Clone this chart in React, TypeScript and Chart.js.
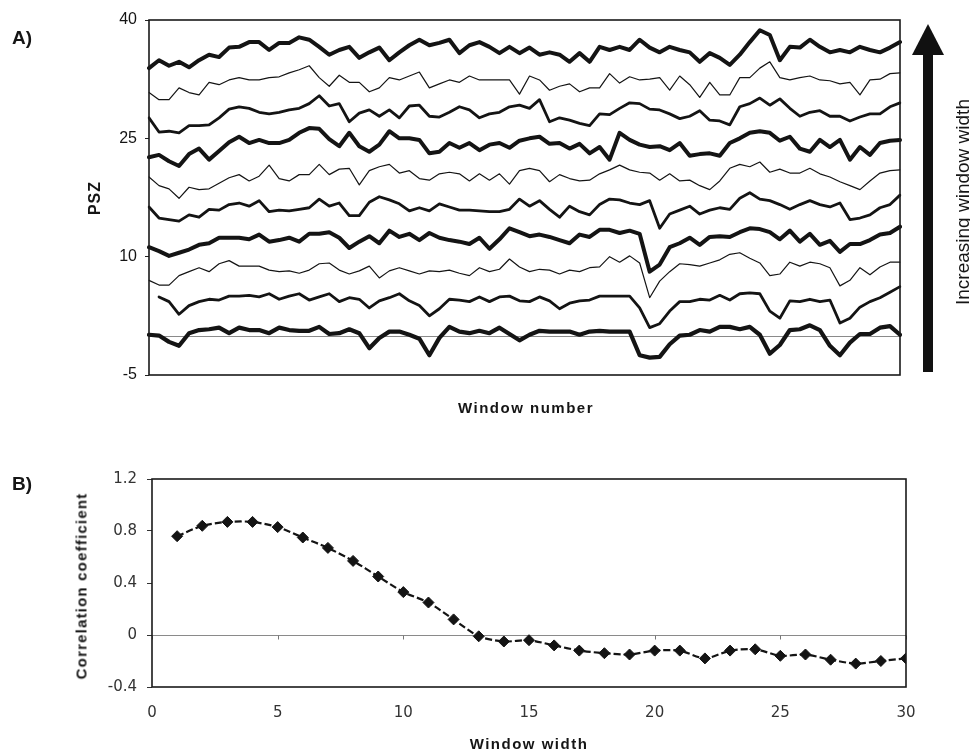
import React, { useEffect, useRef } from "react";
import { Chart, registerables } from "chart.js";

Chart.register(...registerables);

// ---------- Panel A data (PSZ per window, one series per window width, narrowest at bottom) ----------
const WINDOW_NUMBERS: string[] = Array.from({ length: 76 }, (_, i) => String(i + 1));

const pszWidth1 = [0.1, 0.0, -0.8, -1.3, 0.3, 0.7, 0.8, 1.0, 0.3, 1.0,
  0.7, 0.7, 0.3, 1.0, 0.7, 0.6, 0.6, 1.1, 0.2, 0.3,
  0.8, 0.3, -1.6, -0.3, 0.5, 0.5, 0.1, -0.4, -2.5, -0.3,
  1.1, 0.5, 0.3, 0.6, 0.3, 1.0, 0.2, -0.6, 0.1, 0.6,
  0.5, 0.5, 0.5, 0.1, 0.5, 0.6, 0.5, 0.5, 0.5, -2.5,
  -2.8, -2.7, -1.1, 0.0, 0.1, 0.7, 0.5, 1.1, 1.1, 0.8,
  1.1, 0.1, -2.3, -1.2, 0.7, 0.8, 1.3, 0.7, -1.3, -2.5,
  -0.9, 0.2, 0.2, 1.0, 1.2, 0.1];

const pszWidth2 = [null, 4.9, 4.3, 2.7, 3.8, 4.3, 4.6, 4.5, 5.0, 5.0,
  5.1, 4.9, 5.3, 4.6, 5.0, 5.3, 4.5, 4.9, 5.3, 4.3,
  4.8, 4.6, 3.5, 4.4, 4.8, 5.3, 4.4, 3.8, 2.5, 3.4,
  4.6, 4.5, 4.3, 4.9, 4.3, 4.9, 5.0, 4.4, 4.3, 4.9,
  4.4, 3.4, 4.1, 4.4, 4.5, 5.0, 5.0, 5.0, 5.0, 3.5,
  1.0, 1.5, 3.1, 4.3, 4.3, 4.6, 4.5, 5.1, 4.5, 5.3,
  5.4, 5.3, 3.1, 2.2, 4.4, 4.3, 4.6, 4.3, 4.5, 1.6,
  2.2, 3.6, 4.3, 4.8, 5.5, 6.2];

const pszWidth3 = [7.0, 6.4, 6.4, 7.6, 8.1, 8.6, 8.1, 9.1, 9.5, 8.8,
  8.8, 8.8, 8.3, 8.1, 8.2, 7.9, 8.3, 9.1, 9.2, 8.3,
  7.8, 8.2, 8.8, 7.3, 8.2, 8.6, 8.2, 7.8, 8.2, 8.1,
  8.3, 7.9, 7.6, 8.6, 8.1, 8.4, 9.7, 8.7, 8.1, 8.4,
  8.3, 7.8, 8.3, 8.1, 8.6, 8.7, 10.0, 9.3, 10.1, 9.2,
  4.8, 6.9, 8.1, 9.1, 9.0, 8.8, 9.2, 9.6, 10.3, 10.5,
  9.8, 9.2, 7.6, 7.8, 9.3, 8.8, 9.3, 9.1, 8.6, 6.3,
  7.0, 8.6, 7.7, 8.7, 9.3, 9.3];

const pszWidth4 = [11.2, 10.7, 10.1, 10.5, 10.9, 11.5, 11.7, 12.4, 12.4, 12.4,
  12.2, 12.8, 11.9, 12.1, 12.4, 11.9, 12.9, 12.9, 13.1, 12.4,
  11.1, 11.9, 12.6, 11.7, 13.3, 12.5, 12.9, 12.1, 13.0, 12.4,
  12.1, 11.9, 11.6, 12.4, 11.0, 12.2, 13.6, 13.1, 12.6, 12.8,
  12.5, 12.1, 11.7, 12.8, 12.5, 13.4, 13.4, 13.0, 13.3, 12.9,
  8.1, 9.0, 11.2, 11.7, 12.4, 11.5, 12.5, 12.6, 12.5, 13.1,
  13.6, 13.5, 13.1, 12.2, 13.3, 11.9, 12.9, 11.5, 12.0, 10.6,
  11.6, 11.6, 12.1, 12.8, 13.0, 13.8];

const pszWidth5 = [16.3, 14.9, 14.7, 14.5, 15.3, 15.0, 16.0, 15.9, 16.6, 16.8,
  16.4, 17.1, 15.7, 15.9, 15.8, 16.0, 16.2, 17.3, 16.4, 16.8,
  15.2, 15.2, 16.9, 17.6, 17.2, 16.7, 15.8, 16.2, 15.8, 16.7,
  16.3, 15.9, 15.9, 15.8, 15.7, 15.7, 16.0, 17.3, 16.4, 17.1,
  16.0, 15.0, 16.4, 15.7, 15.3, 16.6, 17.3, 17.2, 16.8, 16.6,
  17.1, 13.6, 15.4, 15.9, 16.4, 15.4, 15.9, 16.2, 16.0, 17.4,
  18.1, 17.3, 17.1, 16.6, 16.0, 16.6, 17.1, 16.6, 16.3, 16.8,
  14.7, 14.9, 15.3, 16.2, 16.6, 17.8];

const pszWidth6 = [20.1, 19.0, 18.6, 17.4, 18.8, 18.5, 18.6, 19.3, 20.0, 20.4,
  19.6, 20.2, 21.6, 19.9, 19.6, 20.4, 20.4, 21.7, 20.4, 21.1,
  21.2, 19.1, 20.9, 21.4, 21.7, 20.6, 20.9, 19.9, 19.7, 20.5,
  20.7, 20.5, 19.6, 20.5, 19.7, 20.5, 19.2, 20.9, 21.2, 20.9,
  19.5, 20.4, 19.9, 19.6, 19.7, 20.5, 21.0, 21.6, 21.0, 20.7,
  20.6, 19.7, 20.5, 19.6, 19.7, 19.0, 18.5, 19.6, 21.2, 21.7,
  21.4, 22.0, 20.7, 21.1, 20.6, 20.6, 21.2, 20.5, 20.1, 19.5,
  19.0, 18.5, 19.6, 20.6, 20.9, 21.0];

const pszWidth7 = [22.6, 22.9, 22.1, 21.5, 23.0, 23.7, 22.3, 23.4, 24.5, 25.2,
  24.4, 24.8, 24.4, 24.4, 24.8, 25.7, 26.3, 26.2, 24.9, 24.0,
  25.7, 24.0, 23.3, 24.2, 25.9, 25.0, 25.0, 24.8, 23.1, 23.3,
  24.4, 23.8, 24.4, 23.5, 24.2, 24.4, 23.8, 24.7, 25.0, 25.2,
  24.3, 24.4, 23.7, 24.3, 23.1, 23.9, 22.3, 25.7, 24.8, 24.2,
  23.9, 24.0, 23.5, 24.4, 22.8, 23.0, 23.1, 22.8, 24.4, 25.0,
  25.7, 25.9, 25.7, 24.7, 25.2, 23.7, 23.3, 24.8, 23.9, 24.8,
  22.3, 23.9, 22.9, 24.4, 24.7, 24.8];

const pszWidth8 = [27.6, 25.8, 25.9, 25.7, 26.6, 26.6, 26.7, 27.6, 28.7, 29.0,
  28.8, 28.3, 28.1, 28.3, 28.6, 28.8, 29.4, 30.4, 29.1, 29.4,
  27.1, 28.2, 28.6, 27.8, 28.6, 27.6, 29.1, 29.2, 27.8, 27.7,
  28.3, 29.0, 28.6, 27.6, 28.1, 28.3, 29.0, 29.2, 28.8, 29.9,
  27.1, 27.6, 27.3, 26.9, 26.6, 28.1, 28.0, 28.8, 29.5, 29.4,
  28.7, 28.6, 28.1, 27.5, 27.8, 28.5, 27.3, 27.2, 26.7, 29.0,
  29.4, 30.1, 29.2, 30.0, 28.8, 27.8, 28.3, 28.5, 27.8, 27.8,
  27.2, 27.7, 28.1, 28.1, 29.0, 29.5];

const pszWidth9 = [30.8, 29.9, 29.9, 31.4, 30.8, 30.5, 32.1, 31.8, 32.4, 32.7,
  32.4, 32.4, 32.7, 32.8, 33.3, 33.7, 34.2, 32.7, 31.6, 33.0,
  32.1, 32.1, 30.9, 31.4, 32.7, 32.4, 32.9, 33.4, 31.4, 31.9,
  32.4, 32.1, 32.9, 32.4, 32.4, 32.4, 32.4, 30.6, 32.9, 32.4,
  31.1, 31.6, 31.9, 30.9, 31.4, 31.4, 33.2, 32.0, 32.8, 32.4,
  32.5, 32.7, 31.1, 32.9, 31.8, 30.2, 32.1, 30.5, 30.5, 32.7,
  32.7, 33.9, 34.7, 32.7, 32.4, 32.7, 32.9, 32.4, 32.3, 31.9,
  32.1, 30.5, 32.4, 32.5, 33.2, 33.3];

const pszWidth10 = [33.9, 34.9, 34.2, 34.7, 34.0, 34.9, 35.6, 35.3, 36.5, 36.6,
  37.2, 37.2, 36.2, 37.1, 37.1, 37.8, 37.5, 36.6, 35.6, 36.2,
  36.6, 35.2, 35.9, 36.5, 34.9, 35.9, 36.8, 37.5, 36.8, 37.1,
  37.5, 35.8, 36.8, 37.2, 36.6, 35.8, 36.6, 35.8, 36.5, 35.6,
  35.9, 35.6, 34.7, 35.8, 34.7, 36.6, 36.2, 36.6, 36.2, 37.5,
  36.5, 35.9, 36.6, 36.2, 35.9, 34.7, 35.8, 35.2, 34.3, 35.6,
  37.2, 38.7, 38.1, 34.9, 36.6, 36.5, 37.5, 36.6, 35.9, 36.2,
  35.9, 36.6, 36.2, 35.9, 36.5, 37.2];

const PSZ_TICKS = [-5, 10, 25, 40];

// ---------- Panel B data ----------
const WINDOW_WIDTHS = [1, 2, 3, 4, 5, 6, 7, 8, 9, 10, 11, 12, 13, 14, 15, 16, 17, 18, 19, 20, 21, 22, 23, 24, 25, 26, 27, 28, 29, 30];
const CORRELATION = [0.76, 0.84, 0.87, 0.87, 0.83, 0.75, 0.67, 0.57, 0.45, 0.33,
  0.25, 0.12, -0.01, -0.05, -0.04, -0.08, -0.12, -0.14, -0.15, -0.12,
  -0.12, -0.18, -0.12, -0.11, -0.16, -0.15, -0.19, -0.22, -0.20, -0.18];
const CORR_Y_TICKS = [-0.4, 0, 0.4, 0.8, 1.2];
const WIDTH_X_TICKS = [0, 5, 10, 15, 20, 25, 30];

// series styling (bottom to top): thick, medium, thin repeating
const PANEL_A_SERIES = [
  { values: pszWidth1, w: 4.2 },
  { values: pszWidth2, w: 2.8 },
  { values: pszWidth3, w: 1.2 },
  { values: pszWidth4, w: 4.0 },
  { values: pszWidth5, w: 2.8 },
  { values: pszWidth6, w: 1.2 },
  { values: pszWidth7, w: 4.0 },
  { values: pszWidth8, w: 2.8 },
  { values: pszWidth9, w: 1.2 },
  { values: pszWidth10, w: 4.0 },
];

const SANS = '"Liberation Sans", Arial, Helvetica, sans-serif';

const framePlugin = {
  id: "frame",
  beforeDatasetsDraw(chart: any, _args: any, opts: any) {
    const { ctx, chartArea: a, scales } = chart;
    const y0 = Math.round(scales.y.getPixelForValue(0)) + 0.5;
    ctx.save();
    ctx.strokeStyle = opts.zeroColor || "#888";
    ctx.lineWidth = 1;
    ctx.beginPath();
    ctx.moveTo(a.left, y0);
    ctx.lineTo(a.right, y0);
    ctx.stroke();
    if (opts.zeroTicks) {
      ctx.strokeStyle = "#777";
      for (const v of opts.zeroTicks) {
        const x = Math.round(scales.x.getPixelForValue(v)) + 0.5;
        ctx.beginPath();
        ctx.moveTo(x, y0);
        ctx.lineTo(x, y0 + 4);
        ctx.stroke();
      }
    }
    ctx.restore();
  },
  afterDatasetsDraw(chart: any, _args: any, opts: any) {
    const { ctx, chartArea: a } = chart;
    ctx.save();
    ctx.strokeStyle = opts.color || "#1a1a1a";
    ctx.lineWidth = opts.width || 1.5;
    ctx.strokeRect(a.left, a.top, a.right - a.left, a.bottom - a.top);
    ctx.restore();
  },
};

function PanelA() {
  const ref = useRef<HTMLCanvasElement | null>(null);
  useEffect(() => {
    if (!ref.current) return;
    const chart = new Chart(ref.current, {
      type: "line",
      data: {
        labels: WINDOW_NUMBERS,
        datasets: PANEL_A_SERIES.map((s) => ({
          data: s.values as any,
          borderColor: "#141414",
          borderWidth: s.w,
          pointRadius: 0,
          tension: 0,
          fill: false,
          borderJoinStyle: "round",
          borderCapStyle: "round",
        })),
      },
      options: {
        responsive: false,
        animation: false,
        devicePixelRatio: 1,
        layout: { padding: { left: 0, right: 70, top: 20, bottom: 45 } },
        plugins: {
          legend: { display: false },
          tooltip: { enabled: false },
          frame: { color: "#1a1a1a", width: 1.6, zeroColor: "#8a8a8a" },
        } as any,
        scales: {
          x: { type: "category", display: false, offset: false },
          y: {
            min: -5,
            max: 40,
            afterBuildTicks: (axis: any) => {
              axis.ticks = PSZ_TICKS.map((v) => ({ value: v }));
            },
            afterFit: (axis: any) => {
              axis.width = 149;
            },
            grid: { display: true, drawOnChartArea: false, drawTicks: true, tickLength: 4, color: "#222" },
            border: { display: false },
            ticks: { color: "#141414", font: { family: SANS, size: 16 }, padding: 8 },
          },
        },
      },
      plugins: [framePlugin],
    } as any);
    return () => chart.destroy();
  }, []);
  return (
    <canvas
      ref={ref}
      width={970}
      height={420}
      style={{ position: "absolute", left: 0, top: 0, width: 970, height: 420 }}
    />
  );
}

function PanelB() {
  const ref = useRef<HTMLCanvasElement | null>(null);
  useEffect(() => {
    if (!ref.current) return;
    const chart = new Chart(ref.current, {
      type: "line",
      data: {
        datasets: [
          {
            data: WINDOW_WIDTHS.map((w, i) => ({ x: w, y: CORRELATION[i] })),
            borderColor: "#141414",
            borderWidth: 2.2,
            borderDash: [7, 3],
            tension: 0.25,
            pointStyle: "rectRot",
            pointRadius: 5.5,
            pointBackgroundColor: "#141414",
            pointBorderColor: "#141414",
            pointBorderWidth: 1,
            fill: false,
          },
        ],
      },
      options: {
        responsive: false,
        animation: false,
        devicePixelRatio: 1,
        layout: { padding: { left: 0, right: 64, top: 39, bottom: 0 } },
        plugins: {
          legend: { display: false },
          tooltip: { enabled: false },
          frame: { color: "#1a1a1a", width: 1.6, zeroColor: "#8a8a8a", zeroTicks: WIDTH_X_TICKS },
        } as any,
        scales: {
          x: {
            type: "linear",
            min: 0,
            max: 30,
            afterBuildTicks: (axis: any) => {
              axis.ticks = WIDTH_X_TICKS.map((v) => ({ value: v }));
            },
            afterFit: (axis: any) => {
              axis.height = 53;
            },
            grid: { display: false, drawTicks: false },
            border: { display: false },
            ticks: {
              color: "#333",
              font: { family: '"DejaVu Sans", Verdana, sans-serif', size: 15 },
              padding: 17,
              maxRotation: 0,
              autoSkip: false,
            },
          },
          y: {
            min: -0.4,
            max: 1.2,
            afterBuildTicks: (axis: any) => {
              axis.ticks = CORR_Y_TICKS.map((v) => ({ value: v }));
            },
            afterFit: (axis: any) => {
              axis.width = 152;
            },
            grid: { display: true, drawOnChartArea: false, drawTicks: true, tickLength: 5, color: "#333" },
            border: { display: false },
            ticks: {
              color: "#333",
              font: { family: '"DejaVu Sans", Verdana, sans-serif', size: 15 },
              padding: 10,
            },
          },
        },
      },
      plugins: [framePlugin],
    } as any);
    return () => chart.destroy();
  }, []);
  return (
    <canvas
      ref={ref}
      width={970}
      height={300}
      style={{ position: "absolute", left: 0, top: 440, width: 970, height: 300 }}
    />
  );
}

function Label(props: { x: number; y: number; rotate?: number; style?: React.CSSProperties; children: React.ReactNode }) {
  const { x, y, rotate = 0, style, children } = props;
  return (
    <div
      style={{
        position: "absolute",
        left: x,
        top: y,
        transform: `translate(-50%, -50%) rotate(${rotate}deg)`,
        whiteSpace: "nowrap",
        lineHeight: 1,
        fontFamily: SANS,
        color: "#151515",
        ...style,
      }}
    >
      {children}
    </div>
  );
}

export default function App() {
  return (
    <div style={{ position: "absolute", left: 0, top: 0, width: 970, height: 753, background: "#fff", overflow: "hidden" }}>
      <PanelA />
      <PanelB />
      <svg width={970} height={420} style={{ position: "absolute", left: 0, top: 0 }}>
        <rect x={923} y={52} width={10} height={320} fill="#111" />
        <polygon points="912,55 944,55 928,24" fill="#111" />
      </svg>
      <Label x={22} y={37} style={{ fontWeight: 700, fontSize: 19 }}>A)</Label>
      <Label x={95} y={198} rotate={-90} style={{ fontWeight: 700, fontSize: 16, letterSpacing: 1 }}>PSZ</Label>
      <Label x={526} y={407} style={{ fontWeight: 700, fontSize: 15, letterSpacing: 1.5 }}>Window number</Label>
      <Label x={962} y={202} rotate={-90} style={{ fontSize: 19 }}>Increasing window width</Label>
      <Label x={22} y={483} style={{ fontWeight: 700, fontSize: 19 }}>B)</Label>
      <Label x={81} y={586} rotate={-90} style={{ fontWeight: 700, fontSize: 15, letterSpacing: 1.2 }}>Correlation coefficient</Label>
      <Label x={529} y={743} style={{ fontWeight: 700, fontSize: 15, letterSpacing: 1.5 }}>Window width</Label>
    </div>
  );
}
